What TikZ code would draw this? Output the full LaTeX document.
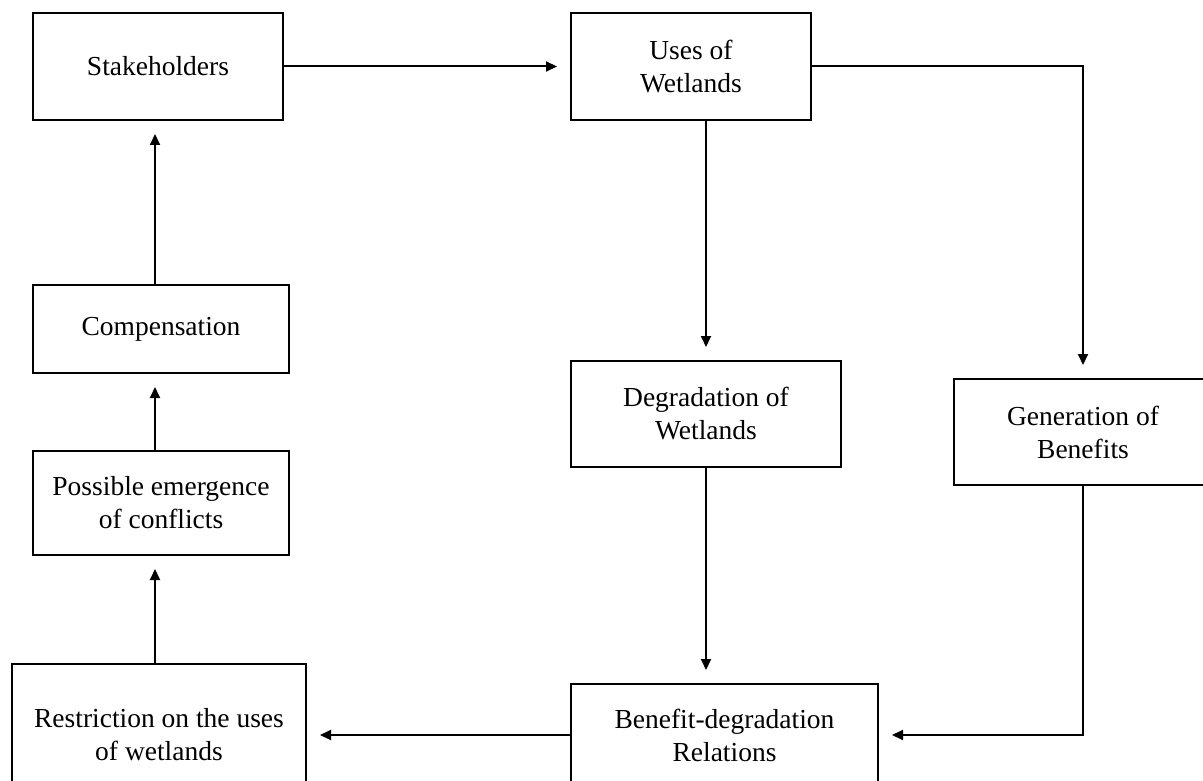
\documentclass[tikz,border=0pt]{standalone}
\usepackage{fontspec}
\setmainfont{Liberation Serif}
\usetikzlibrary{arrows.meta}
\begin{document}
\begin{tikzpicture}[x=1pt,y=-1pt,
  box/.style={draw,line width=2pt,align=center,inner sep=0pt,font=\fontsize{27.5}{33}\selectfont},
  conn/.style={line width=2pt,-{Triangle[length=11pt,width=10pt]},shorten >=13pt}]
\path[use as bounding box, clip] (0,0) rectangle (1203,781);
\node[box,minimum width=250,minimum height=107] (stake) at (158,66.5) {Stakeholders};
\node[box,minimum width=240,minimum height=107] (uses) at (691,66.5) {Uses of\\Wetlands};
\node[box,minimum width=256,minimum height=88] (comp) at (161,329) {Compensation};
\node[box,minimum width=256,minimum height=104] (conf) at (161,503) {Possible emergence\\of conflicts};
\node[box,minimum width=294,minimum height=142] (restr) at (159,735) {Restriction on the uses\\of wetlands};
\node[box,minimum width=270,minimum height=106] (deg) at (706,414) {Degradation of\\Wetlands};
\node[box,minimum width=258,minimum height=106] (gen) at (1083,432) {Generation of\\Benefits};
\node[box,minimum width=307,minimum height=102] (ben) at (724.5,735) {Benefit-degradation\\Relations};
\coordinate (colx) at (155,0);
\draw[conn] (stake) -- (uses);
\draw[conn] (uses.south -| deg.north) -- (deg.north);
\draw[conn] (uses.east) -| (gen.north);
\draw[conn] (deg.south) -- (deg.south |- ben.north);
\draw[conn] (gen.south) |- (ben.east);
\draw[conn] (ben.west) -- (restr.east);
\draw[conn] (restr.north -| colx) -- (conf.south -| colx);
\draw[conn] (conf.north -| colx) -- (comp.south -| colx);
\draw[conn] (comp.north -| colx) -- (stake.south -| colx);
\end{tikzpicture}
\end{document}
